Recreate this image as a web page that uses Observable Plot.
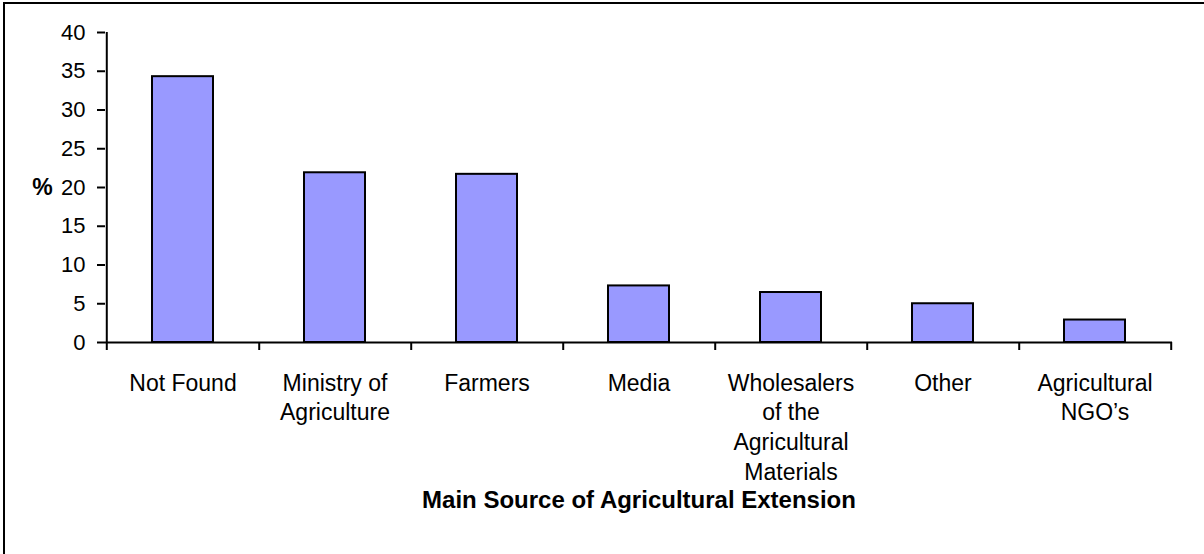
<!DOCTYPE html>
<html><head><meta charset="utf-8">
<script src="https://cdn.jsdelivr.net/npm/d3@7"></script>
<script src="https://cdn.jsdelivr.net/npm/@observablehq/plot@0.6"></script>
<style>
body{margin:0;background:#fff}
#wrap{position:relative;width:1204px;height:554px;overflow:hidden;background:#fff}
#bt{position:absolute;left:3px;top:2px;width:1201px;height:2px;background:#000}
#bl{position:absolute;left:3px;top:2px;width:2px;height:552px;background:#000}
</style></head><body>
<div id="wrap"><div id="chart"></div><div id="bt"></div><div id="bl"></div></div>
<script>
const categories = ["Not Found", "Ministry of\nAgriculture", "Farmers", "Media", "Wholesalers\nof the\nAgricultural\nMaterials", "Other", "Agricultural\nNGO’s"];
const values = [34.3, 21.9, 21.7, 7.3, 6.45, 5.0, 2.9];
const yTicks = [0, 5, 10, 15, 20, 25, 30, 35, 40];
const yLabel = "%";
const yLabelAt = 20;
const xTitle = "Main Source of Agricultural Extension";

const data = categories.map((c, i) => ({category: c, value: values[i]}));
const W = 1204, H = 554, mL = 105, mR = 32, mT = 32, mB = 212;
const step = (W - mL - mR) / categories.length;

const chart = Plot.plot({
  width: W, height: H,
  marginLeft: mL, marginRight: mR, marginTop: mT, marginBottom: mB,
  style: {fontFamily: "'Liberation Sans', Arial, sans-serif", fontSize: "22px", color: "#000", background: "#fff", overflow: "visible"},
  x: {domain: categories, type: "band", paddingInner: 0.6, paddingOuter: 0.3},
  y: {domain: [0, 40]},
  marks: [
    Plot.barY(data, {x: "category", y: "value", fill: "#9999FF", stroke: "#000", strokeWidth: 2}),
    Plot.ruleY([0], {stroke: "#000", strokeWidth: 2}),
    Plot.ruleX([categories[0]], {x: d => d, dx: -step / 2, y1: 0, y2: 40, stroke: "#000", strokeWidth: 2}),
    Plot.axisY({ticks: yTicks, tickSize: 8, tickPadding: 12, strokeWidth: 2, fontSize: 22, label: null}),
    Plot.axisX({tickSize: 0, tickPadding: 27, fontSize: 23, lineHeight: 1.29, label: null}),
    Plot.axisX({tickSize: 8, dx: step / 2, tickFormat: () => "", strokeWidth: 2, label: null}),
    Plot.axisX({ticks: [categories[0]], tickSize: 8, dx: -step / 2, tickFormat: () => "", strokeWidth: 2, label: null}),
    Plot.text([yLabel], {text: d => d, y: () => yLabelAt, frameAnchor: "left", dx: -63, textAnchor: "middle", fontWeight: "bold", fontSize: 23}),
    Plot.text([xTitle], {text: d => d, frameAnchor: "bottom", dy: 165, fontWeight: "bold", fontSize: 24})
  ]
});
document.getElementById("chart").appendChild(chart);
</script>
</body></html>
